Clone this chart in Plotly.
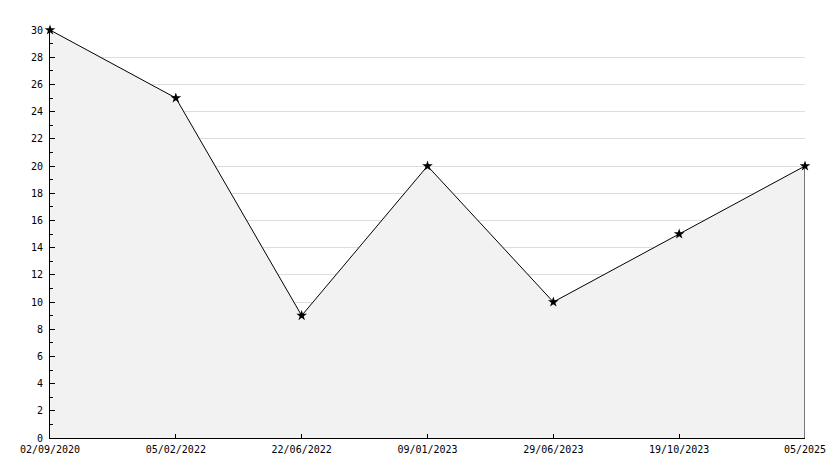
import plotly.graph_objects as go

dates = ["02/09/2020", "05/02/2022", "22/06/2022", "09/01/2023", "29/06/2023", "19/10/2023", "05/2025"]
values = [30, 25, 9, 20, 10, 15, 20]
y_ticks = list(range(0, 31, 2))

fig = go.Figure()
fig.add_trace(go.Scatter(
    x=dates, y=values, mode="lines+markers",
    fill="tozeroy", fillcolor="#f2f2f2",
    line=dict(color="black", width=1),
    marker=dict(symbol="star", size=8, color="black"),
    cliponaxis=False, showlegend=False, hoverinfo="x+y",
))
# closing edge of the area at the last point
fig.add_trace(go.Scatter(
    x=[dates[-1], dates[-1]], y=[values[-1], 0], mode="lines",
    line=dict(color="black", width=1), showlegend=False, hoverinfo="skip",
    cliponaxis=False,
))

# page body has an 8px margin, so the figure is 8px smaller and shifted
fig.update_layout(
    width=826, height=460,
    margin=dict(l=42, r=29, t=22, b=30),
    paper_bgcolor="white", plot_bgcolor="white",
    font=dict(family="DejaVu Sans Mono", size=10, color="black"),
)
fig.update_xaxes(
    type="category", range=[0, len(dates) - 1], automargin=False,
    showline=True, linecolor="black", linewidth=1,
    ticks="inside", ticklen=4, tickcolor="black",
    ticklabelstandoff=2,
    showgrid=False, zeroline=False,
    tickfont=dict(family="DejaVu Sans Mono", size=10),
)
fig.update_yaxes(
    range=[0, 30], tickvals=y_ticks, automargin=False,
    showline=True, linecolor="black", linewidth=1,
    ticks="inside", ticklen=5, tickcolor="black",
    ticklabelstandoff=4,
    minor=dict(ticks="inside", ticklen=3, dtick=1, tick0=0, tickcolor="black", showgrid=False),
    showgrid=True, gridcolor="#dddddd", gridwidth=1,
    zeroline=False,
    tickfont=dict(family="DejaVu Sans Mono", size=10),
)

fig.write_html("out.html")
